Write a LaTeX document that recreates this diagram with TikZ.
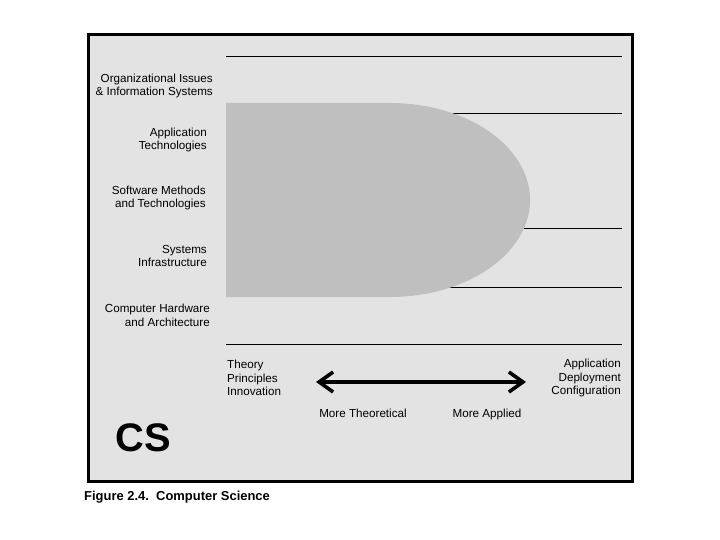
\documentclass[tikz,border=0pt]{standalone}
\usepackage{fontspec}
\setmainfont{Liberation Sans}
\usetikzlibrary{arrows.meta,positioning}
\definecolor{panel}{HTML}{E3E3E3}
\definecolor{blob}{HTML}{C0BFC0}

\begin{document}
\begin{tikzpicture}[x=1bp,y=-1bp,
  area/.style={anchor=east, align=right, inner sep=0pt, font=\fontsize{11.7}{13.8}\selectfont},
  pole/.style={inner sep=0pt, font=\fontsize{11.7}{13.6}\selectfont},
  rule/.style={line width=0.9bp, black}
]
  \useasboundingbox (0,0) rectangle (720,540);
  \draw[line width=3bp, fill=panel] (88,35) rectangle (632,481);
  % bands and the CS region
  \foreach \y in {56,113,228,287,344}
    \draw[rule] (226,\y) -- (622,\y);
  \fill[blob] (226,103) -- (390,103)
    arc[start angle=-90, end angle=90, x radius=140, y radius=97] -- (226,297) -- cycle;
  \node[area] (org) at (213,86) {Organizational Issues\\\& Information Systems};
  \node[area] (app) at (207,140) {Application\\Technologies};
  \node[area] (soft) at (206,198) {Software Methods\\and Technologies};
  \node[area] (sys) at (207,256) {Systems\\Infrastructure};
  \node[area] (hw) at (210,315) {Computer Hardware\\and Architecture};
  % axis
  \node[pole, anchor=west, align=left] (theory) at (227,378) {Theory\\Principles\\Innovation};
  \node[pole, anchor=east, align=right] (applied) at (621,378) {Application\\Deployment\\Configuration};
  \coordinate (lhs) at (316,382);
  \coordinate (rhs) at (526,382);
  \draw[line width=3.6bp, {Straight Barb[length=14bp,width=20bp]}-{Straight Barb[length=14bp,width=20bp]}] (lhs) -- (rhs);
  \node[pole, anchor=base] (moretheo) at (363,417) {More Theoretical};
  \node[pole, anchor=base] (moreappl) at (487,417) {More Applied};
  \node[font=\fontsize{40}{40}\selectfont\bfseries, inner sep=0pt] (cs) at (143,438) {CS};
  \node[anchor=west, inner sep=0pt, font=\fontsize{13}{15}\selectfont\bfseries] (caption) at (84,497) {Figure 2.4.\ \ Computer Science};
\end{tikzpicture}
\end{document}
